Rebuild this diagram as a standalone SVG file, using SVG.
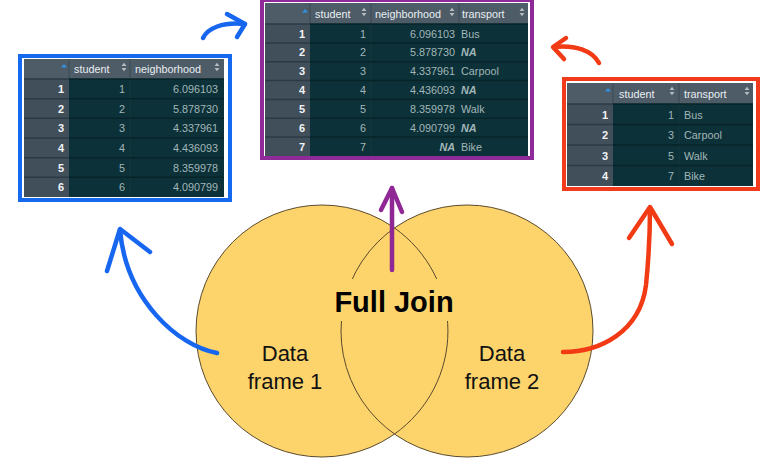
<svg xmlns="http://www.w3.org/2000/svg" xmlns:xlink="http://www.w3.org/1999/xlink" width="780" height="470" viewBox="0 0 780 470">
  <style>
    .hd { fill: #4e5c68; }
    .rn { fill: #414f5b; }
    .dc { fill: #0c3138; }
    .gl { stroke: #2c3a45; stroke-width: 1.5; }
    .dl { stroke: #072529; stroke-width: 1.5; }
    .vl { stroke: #3a4853; stroke-width: 1; }
    .cl { stroke: #16393f; stroke-width: 1; }
    text { font-family: "Liberation Sans", Arial, Helvetica, sans-serif; }
    .ht { font-size: 10.8px; fill: #e9eef1; }
    .rt { font-size: 11px; font-weight: bold; fill: #f2f4f5; text-anchor: end; }
    .nv { font-size: 10.8px; fill: #a2b7b9; text-anchor: end; }
    .sv { font-size: 10.8px; fill: #a2b7b9; }
    .na { font-style: italic; font-weight: bold; }
    .lbl { font-size: 22px; fill: #111; text-anchor: middle; }
    .title { font-size: 29px; font-weight: bold; fill: #000; text-anchor: middle; }
    .venn { fill: #fcd46b; stroke: #5b4a2c; stroke-width: 1; }
    .arrow { fill: none; stroke-width: 4.5; stroke-linecap: round; stroke-linejoin: round; }
  </style>
  <defs>
    <g id="sort">
      <polygon points="-2.4,-1 2.4,-1 0,-4.2" fill="#b4bcc2"/>
      <polygon points="-2.4,1 2.4,1 0,4.2" fill="#b4bcc2"/>
    </g>
    <polygon id="asc" points="-3,1.5 3,1.5 0,-2" fill="#2f93e6"/>
  </defs>

  <rect width="780" height="470" fill="#ffffff"/>

  <!-- Venn diagram -->
  <g id="venn">
    <circle class="venn" cx="322" cy="331" r="126"/>
    <circle class="venn" cx="467" cy="331" r="126"/>
    <!-- left circle outline redrawn inside the overlap -->
    <path d="M 394.5 228 A 126 126 0 0 1 394.5 434" fill="none" stroke="#5b4a2c" stroke-width="1"/>
    <!-- label box hides the overlap outlines behind the title -->
    <rect x="332" y="279" width="125" height="42" fill="#fcd46b"/>
    <text class="title" x="394" y="312">Full Join</text>
  </g>
  <g id="df1">
    <text class="lbl" x="285" y="361">Data</text>
    <text class="lbl" x="285" y="389">frame 1</text>
  </g>
  <g id="df2">
    <text class="lbl" x="502" y="361">Data</text>
    <text class="lbl" x="502" y="389">frame 2</text>
  </g>

  <!-- Data frame 1 table -->
  <g id="table1">
    <rect x="20" y="56" width="210" height="144" fill="#ffffff" stroke="#1569ef" stroke-width="4"/>
    <rect x="24" y="59" width="45" height="20" class="hd"/>
    <rect x="69" y="59" width="155" height="20" class="hd"/>
    <rect x="24" y="79" width="45" height="118" class="rn"/>
    <rect x="69" y="79" width="155" height="118" class="dc"/>
    <line class="vl" x1="69" y1="59" x2="69" y2="79"/>
    <line class="vl" x1="130" y1="59" x2="130" y2="79"/>
    <line class="cl" x1="130" y1="79" x2="130" y2="197"/>
    <g>
      <line class="gl" x1="24" y1="79" x2="69" y2="79"/><line class="dl" x1="69" y1="79" x2="224" y2="79"/>
      <line class="gl" x1="24" y1="98.7" x2="69" y2="98.7"/><line class="dl" x1="69" y1="98.7" x2="224" y2="98.7"/>
      <line class="gl" x1="24" y1="118.3" x2="69" y2="118.3"/><line class="dl" x1="69" y1="118.3" x2="224" y2="118.3"/>
      <line class="gl" x1="24" y1="138" x2="69" y2="138"/><line class="dl" x1="69" y1="138" x2="224" y2="138"/>
      <line class="gl" x1="24" y1="157.7" x2="69" y2="157.7"/><line class="dl" x1="69" y1="157.7" x2="224" y2="157.7"/>
      <line class="gl" x1="24" y1="177.3" x2="69" y2="177.3"/><line class="dl" x1="69" y1="177.3" x2="224" y2="177.3"/>
    </g>
    <use xlink:href="#asc" x="64" y="66"/>
    <text class="ht" x="74" y="73">student</text>
    <use xlink:href="#sort" x="124" y="67"/>
    <text class="ht" x="135" y="73">neighborhood</text>
    <use xlink:href="#sort" x="217" y="67"/>
    <g>
      <text class="rt" x="64" y="93">1</text><text class="nv" x="125" y="93">1</text><text class="nv" x="218" y="93">6.096103</text>
      <text class="rt" x="64" y="112.7">2</text><text class="nv" x="125" y="112.7">2</text><text class="nv" x="218" y="112.7">5.878730</text>
      <text class="rt" x="64" y="132.3">3</text><text class="nv" x="125" y="132.3">3</text><text class="nv" x="218" y="132.3">4.337961</text>
      <text class="rt" x="64" y="152">4</text><text class="nv" x="125" y="152">4</text><text class="nv" x="218" y="152">4.436093</text>
      <text class="rt" x="64" y="171.7">5</text><text class="nv" x="125" y="171.7">5</text><text class="nv" x="218" y="171.7">8.359978</text>
      <text class="rt" x="64" y="191.3">6</text><text class="nv" x="125" y="191.3">6</text><text class="nv" x="218" y="191.3">4.090799</text>
    </g>
  </g>

  <!-- Full join result table -->
  <g id="table-join">
    <rect x="262" y="0" width="270" height="158" fill="#ffffff" stroke="#8f2b99" stroke-width="4"/>
    <rect x="265" y="3" width="45" height="21" class="hd"/>
    <rect x="310" y="3" width="218" height="21" class="hd"/>
    <rect x="265" y="24" width="45" height="132" class="rn"/>
    <rect x="310" y="24" width="218" height="132" class="dc"/>
    <line class="vl" x1="310" y1="3" x2="310" y2="24"/>
    <line class="vl" x1="371" y1="3" x2="371" y2="24"/>
    <line class="vl" x1="459" y1="3" x2="459" y2="24"/>
    <line class="cl" x1="371" y1="24" x2="371" y2="156"/>
    <g>
      <line class="gl" x1="265" y1="24" x2="310" y2="24"/><line class="dl" x1="310" y1="24" x2="528" y2="24"/>
      <line class="gl" x1="265" y1="42.9" x2="310" y2="42.9"/><line class="dl" x1="310" y1="42.9" x2="528" y2="42.9"/>
      <line class="gl" x1="265" y1="61.7" x2="310" y2="61.7"/><line class="dl" x1="310" y1="61.7" x2="528" y2="61.7"/>
      <line class="gl" x1="265" y1="80.6" x2="310" y2="80.6"/><line class="dl" x1="310" y1="80.6" x2="528" y2="80.6"/>
      <line class="gl" x1="265" y1="99.4" x2="310" y2="99.4"/><line class="dl" x1="310" y1="99.4" x2="528" y2="99.4"/>
      <line class="gl" x1="265" y1="118.3" x2="310" y2="118.3"/><line class="dl" x1="310" y1="118.3" x2="528" y2="118.3"/>
      <line class="gl" x1="265" y1="137.1" x2="310" y2="137.1"/><line class="dl" x1="310" y1="137.1" x2="528" y2="137.1"/>
    </g>
    <use xlink:href="#asc" x="305" y="11"/>
    <text class="ht" x="315" y="18">student</text>
    <use xlink:href="#sort" x="364" y="12"/>
    <text class="ht" x="375" y="18">neighborhood</text>
    <use xlink:href="#sort" x="452" y="12"/>
    <text class="ht" x="462" y="18">transport</text>
    <use xlink:href="#sort" x="522" y="12"/>
    <g>
      <text class="rt" x="305" y="37.5">1</text><text class="nv" x="366" y="37.5">1</text><text class="nv" x="455" y="37.5">6.096103</text><text class="sv" x="461" y="37.5">Bus</text>
      <text class="rt" x="305" y="56.4">2</text><text class="nv" x="366" y="56.4">2</text><text class="nv" x="455" y="56.4">5.878730</text><text class="sv na" x="461" y="56.4">NA</text>
      <text class="rt" x="305" y="75.2">3</text><text class="nv" x="366" y="75.2">3</text><text class="nv" x="455" y="75.2">4.337961</text><text class="sv" x="461" y="75.2">Carpool</text>
      <text class="rt" x="305" y="94.1">4</text><text class="nv" x="366" y="94.1">4</text><text class="nv" x="455" y="94.1">4.436093</text><text class="sv na" x="461" y="94.1">NA</text>
      <text class="rt" x="305" y="112.9">5</text><text class="nv" x="366" y="112.9">5</text><text class="nv" x="455" y="112.9">8.359978</text><text class="sv" x="461" y="112.9">Walk</text>
      <text class="rt" x="305" y="131.8">6</text><text class="nv" x="366" y="131.8">6</text><text class="nv" x="455" y="131.8">4.090799</text><text class="sv na" x="461" y="131.8">NA</text>
      <text class="rt" x="305" y="150.6">7</text><text class="nv" x="366" y="150.6">7</text><text class="nv na" x="455" y="150.6">NA</text><text class="sv" x="461" y="150.6">Bike</text>
    </g>
  </g>

  <!-- Data frame 2 table -->
  <g id="table2">
    <rect x="564" y="79" width="194" height="110" fill="#ffffff" stroke="#f23a1c" stroke-width="4"/>
    <rect x="567" y="83" width="46" height="21" class="hd"/>
    <rect x="613" y="83" width="140" height="21" class="hd"/>
    <rect x="567" y="104" width="46" height="82" class="rn"/>
    <rect x="613" y="104" width="140" height="82" class="dc"/>
    <line class="vl" x1="613" y1="83" x2="613" y2="104"/>
    <line class="vl" x1="679" y1="83" x2="679" y2="104"/>
    <line class="cl" x1="679" y1="104" x2="679" y2="186"/>
    <g>
      <line class="gl" x1="567" y1="104" x2="613" y2="104"/><line class="dl" x1="613" y1="104" x2="753" y2="104"/>
      <line class="gl" x1="567" y1="124.5" x2="613" y2="124.5"/><line class="dl" x1="613" y1="124.5" x2="753" y2="124.5"/>
      <line class="gl" x1="567" y1="145" x2="613" y2="145"/><line class="dl" x1="613" y1="145" x2="753" y2="145"/>
      <line class="gl" x1="567" y1="165.5" x2="613" y2="165.5"/><line class="dl" x1="613" y1="165.5" x2="753" y2="165.5"/>
    </g>
    <use xlink:href="#asc" x="608" y="90"/>
    <text class="ht" x="619" y="98">student</text>
    <use xlink:href="#sort" x="672" y="91"/>
    <text class="ht" x="684" y="98">transport</text>
    <use xlink:href="#sort" x="747" y="91"/>
    <g>
      <text class="rt" x="608" y="118.5">1</text><text class="nv" x="674" y="118.5">1</text><text class="sv" x="684" y="118.5">Bus</text>
      <text class="rt" x="608" y="139">2</text><text class="nv" x="674" y="139">3</text><text class="sv" x="684" y="139">Carpool</text>
      <text class="rt" x="608" y="159.5">3</text><text class="nv" x="674" y="159.5">5</text><text class="sv" x="684" y="159.5">Walk</text>
      <text class="rt" x="608" y="180">4</text><text class="nv" x="674" y="180">7</text><text class="sv" x="684" y="180">Bike</text>
    </g>
  </g>

  <!-- Hand-drawn arrows -->
  <g id="connectors">
    <path class="arrow" stroke="#1766f0" d="M 217 353 C 178 346, 126 300, 120 230"/>
    <path class="arrow" stroke="#1766f0" d="M 107 271 L 120 229 L 150 252"/>
    <path class="arrow" stroke="#1766f0" d="M 203 38 C 208 28, 222 22, 245 24"/>
    <path class="arrow" stroke="#1766f0" d="M 227 14 L 245 24 L 237 37"/>
    <path class="arrow" stroke="#f23a14" d="M 563 352 C 600 352, 640 332, 646 285 C 649 255, 650 230, 650 208"/>
    <path class="arrow" stroke="#f23a14" d="M 629 238 L 650 207 L 672 244"/>
    <path class="arrow" stroke="#f23a14" d="M 599 63 C 592 50, 575 45, 554 47"/>
    <path class="arrow" stroke="#f23a14" d="M 566 38 L 553 47 L 564 59"/>
    <path class="arrow" stroke="#8f2795" d="M 392 270 L 392 188"/>
    <path class="arrow" stroke="#8f2795" d="M 381 210 L 392 188 L 402 212"/>
  </g>
</svg>
